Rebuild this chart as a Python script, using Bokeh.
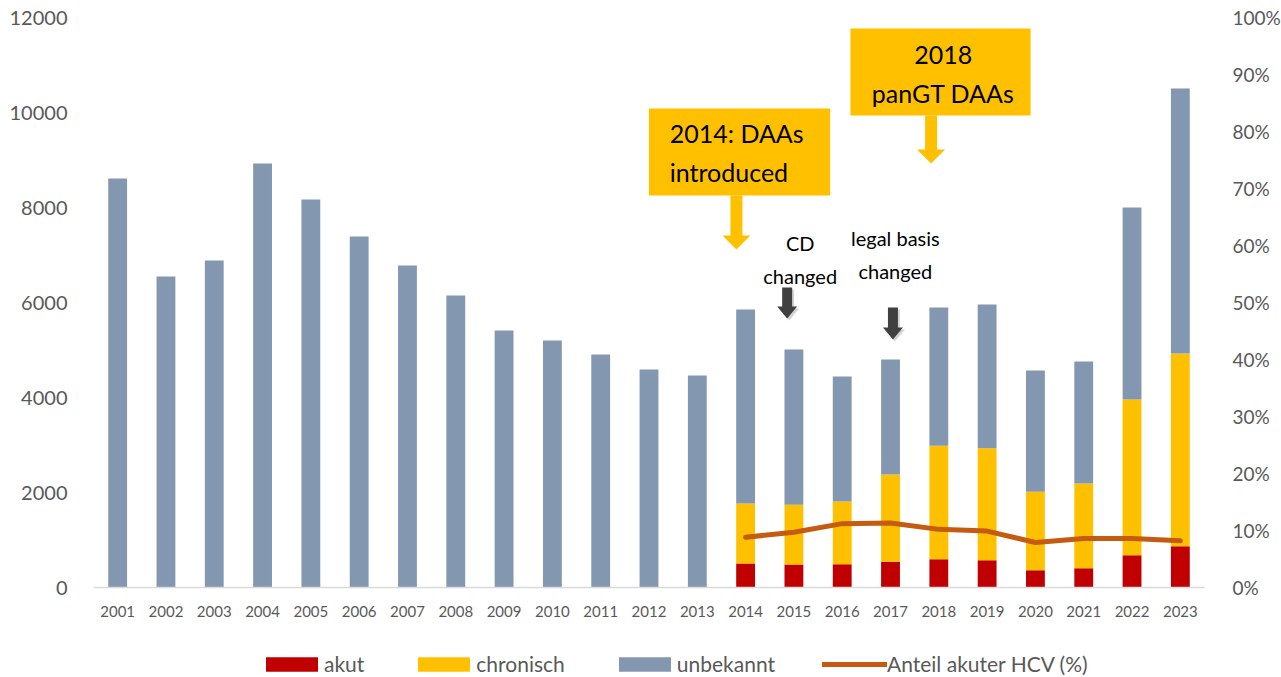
from bokeh.plotting import figure
from bokeh.layouts import column
from bokeh.models import (ColumnDataSource, Range1d, LinearAxis, FixedTicker,
                          PrintfTickFormatter, Legend, LegendItem)
from bokeh.core.properties import value
from bokeh.embed import file_html
from bokeh.resources import INLINE

# ---------------- data ----------------
years = list(range(2001, 2024))
akut = [0] * 13 + [505, 484, 490, 541, 596, 575, 365, 407, 680, 870]
chronisch = [0] * 13 + [1263, 1257, 1320, 1838, 2387, 2358, 1649, 1782, 3278, 4056]
unbekannt = [8610, 6547, 6884, 8926, 8168, 7389, 6779, 6147, 5410, 5200, 4905, 4589, 4463,
             4085, 3270, 2632, 2421, 2912, 3025, 2554, 2569, 4042, 5579]
anteil_years = list(range(2014, 2024))
anteil = [8.8, 9.7, 11.2, 11.3, 10.2, 9.9, 7.9, 8.6, 8.6, 8.2]
left_ticks = [0, 2000, 4000, 6000, 8000, 10000, 12000]
right_ticks = [0, 10, 20, 30, 40, 50, 60, 70, 80, 90, 100]
series_names = ["akut", "chronisch", "unbekannt"]
line_name = "Anteil akuter HCV (%)"

C_AKUT = "#C00000"
C_CHRON = "#FFC000"
C_UNB = "#8497B0"
C_LINE = "#C55A11"
GREY_TXT = "#595959"
FONT = "Lato"
bar_colors = [C_AKUT, C_CHRON, C_UNB]

src = ColumnDataSource(dict(year=years, akut=akut, chronisch=chronisch, unbekannt=unbekannt))
lsrc = ColumnDataSource(dict(year=anteil_years, anteil=anteil))

p = figure(frame_width=1111, frame_height=570,
           min_border_left=93, min_border_right=70, min_border_top=17, min_border_bottom=36,
           x_range=Range1d(2000.5, 2023.5), y_range=Range1d(0, 12000),
           output_backend="svg", toolbar_location=None, tools="")
p.outline_line_color = None
p.background_fill_color = "white"
p.border_fill_color = "white"
p.grid.visible = False
p.extra_y_ranges = {"pct": Range1d(0, 100)}

p.vbar_stack(series_names, x="year", width=0.39, source=src,
             color=bar_colors, line_color=None)
p.line("year", "anteil", source=lsrc, y_range_name="pct", line_color=C_LINE,
       line_width=5, line_cap="round", line_join="round")

# axes
xa = p.xaxis[0]
xa.ticker = FixedTicker(ticks=years)
xa.axis_line_color = "#D9D9D9"
xa.axis_line_width = 1.5
xa.major_tick_line_color = None
xa.minor_tick_line_color = None
xa.major_label_text_font = FONT
xa.major_label_text_font_size = "15px"
xa.major_label_text_color = GREY_TXT
xa.major_label_standoff = 12

ya = p.yaxis[0]
ya.ticker = FixedTicker(ticks=left_ticks)
ya.axis_line_color = None
ya.major_tick_line_color = None
ya.minor_tick_line_color = None
ya.major_label_text_font = FONT
ya.major_label_text_font_size = "20px"
ya.major_label_text_color = GREY_TXT
ya.major_label_standoff = 20

ra = LinearAxis(y_range_name="pct", ticker=FixedTicker(ticks=right_ticks),
                formatter=PrintfTickFormatter(format="%d%%"))
ra.axis_line_color = None
ra.major_tick_line_color = None
ra.minor_tick_line_color = None
ra.major_label_text_font = FONT
ra.major_label_text_font_size = "19px"
ra.major_label_text_color = GREY_TXT
ra.major_label_standoff = 22
p.add_layout(ra, "right")

# ---------------- annotations ----------------
XS = 48.4    # px per year
YS = 0.0475  # px per case


def arrow_poly(cx, y_top, y_tip, shaft_px, head_px, head_len_px, dx=0.0, dy=0.0):
    sw = shaft_px / XS
    hw = head_px / XS
    hl = head_len_px / YS
    cx = cx + dx / XS
    y_top = y_top - dy / YS
    y_tip = y_tip - dy / YS
    yb = y_tip + hl
    xs = [cx - sw, cx + sw, cx + sw, cx + hw, cx, cx - hw, cx - sw]
    ys = [y_top, y_top, yb, yb, y_tip, yb, yb]
    return xs, ys


# yellow boxes
p.quad(left=[2012.0, 2016.17], right=[2015.75, 2019.9],
       bottom=[8253, 9937], top=[10084, 11768], fill_color=C_CHRON, line_color=None)

# yellow arrows
ya1 = arrow_poly(2013.81, 8253, 7116, 6, 14, 14)
ya2 = arrow_poly(2017.84, 9937, 8926, 6, 14, 14)
p.patches([ya1[0], ya2[0]], [ya1[1], ya2[1]], fill_color=C_CHRON, line_color=None)

# dark arrows with shadow
da1s = arrow_poly(2014.86, 6316, 5663, 5, 10, 12, dx=2, dy=2)
da2s = arrow_poly(2017.05, 5895, 5221, 5, 10, 12, dx=2, dy=2)
p.patches([da1s[0], da2s[0]], [da1s[1], da2s[1]], fill_color="#808080",
          fill_alpha=0.35, line_color=None)
da1 = arrow_poly(2014.86, 6316, 5663, 5, 10, 12)
da2 = arrow_poly(2017.05, 5895, 5221, 5, 10, 12)
p.patches([da1[0], da2[0]], [da1[1], da2[1]], fill_color="#404040", line_color=None)

# texts
p.text(x=[2012.43], y=[9168], text=["2014: DAAs\nintroduced"],
       text_font=value(FONT), text_font_size="25px", text_color="black",
       text_align="left", text_baseline="middle", text_line_height=1.3)
p.text(x=[2018.09], y=[10821], text=["2018\npanGT DAAs"],
       text_font=value(FONT), text_font_size="25px", text_color="black",
       text_align="center", text_baseline="middle", text_line_height=1.3)
p.text(x=[2015.13, 2017.1], y=[6905, 7011], text=["CD\nchanged", "legal basis\nchanged"],
       text_font=value(FONT), text_font_size="20px", text_color="black",
       text_align="center", text_baseline="middle", text_line_height=1.4)

# ---------------- legend strip (separate small figure) ----------------
lf = figure(frame_width=1274, frame_height=53, min_border=0,
            x_range=Range1d(0, 1), y_range=Range1d(0, 1),
            x_axis_type=None, y_axis_type=None,
            output_backend="svg", toolbar_location=None, tools="")
lf.outline_line_color = None
lf.grid.visible = False
items = []
# legend-only proxy glyphs, placed outside the visible range of this strip
for name, col in zip(series_names, bar_colors):
    r = lf.vbar(x=[5], top=[5], bottom=[4], width=0.5, fill_color=col, line_color=None)
    items.append(LegendItem(label=name, renderers=[r]))
rl = lf.line(x=[5, 6], y=[5, 5], line_color=C_LINE, line_width=5, line_cap="round")
items.append(LegendItem(label=line_name, renderers=[rl]))

lg = Legend(items=items, orientation="horizontal", location=(259, 0),
            glyph_width=65, glyph_height=18, label_standoff=0, spacing=47,
            padding=0, margin=0, border_line_color=None, background_fill_alpha=0,
            label_text_font=FONT, label_text_font_size="21px",
            label_text_color=GREY_TXT)
lf.add_layout(lg)

layout = column(p, lf)
open("out.html", "w").write(file_html(layout, INLINE))
